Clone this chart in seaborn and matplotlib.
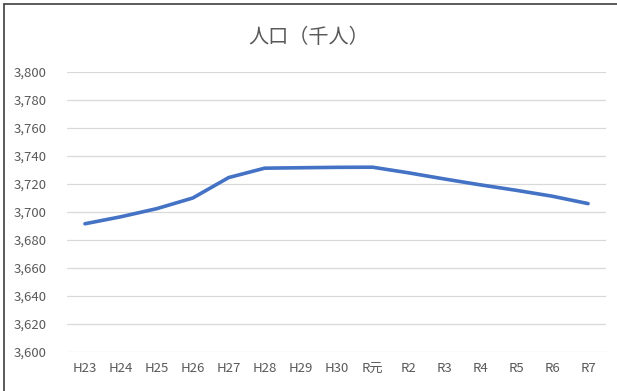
import pandas as pd
import seaborn as sns
import matplotlib.pyplot as plt
from matplotlib.lines import Line2D

years = ["H23", "H24", "H25", "H26", "H27", "H28", "H29", "H30",
         "R元", "R2", "R3", "R4", "R5", "R6", "R7"]
population = [3691.6, 3696.6, 3702.4, 3710.0, 3724.6, 3731.3, 3731.6, 3731.9,
              3732.0, 3728.0, 3723.6, 3719.4, 3715.5, 3711.3, 3706.0]
yticks = list(range(3600, 3801, 20))

df = pd.DataFrame({"year": years, "pop": population})

sns.set_theme(style="white")
plt.rcParams["font.family"] = ["Noto Sans CJK JP", "DejaVu Sans"]

fig = plt.figure(figsize=(6.17, 3.91), dpi=100)
ax = fig.add_axes([0.1086, 0.0997, 0.8736, 0.7162])

sns.lineplot(data=df, x="year", y="pop", sort=False, color="#4472C4",
             linewidth=2.6, ax=ax)

ax.set_xlim(-0.5, len(years) - 0.5)
ax.set_ylim(3600, 3800)
ax.set_yticks(yticks)
ax.set_yticklabels([f"{v:,}" for v in yticks])
ax.yaxis.grid(True, color="#D9D9D9", linewidth=0.9)
ax.set_axisbelow(True)
for s in ax.spines.values():
    s.set_visible(False)
ax.tick_params(axis="both", length=0, labelsize=9.5, colors="#595959")
ax.tick_params(axis="y", pad=15)
ax.tick_params(axis="x", pad=7)
ax.set_xlabel("")
ax.set_ylabel("")

fig.text(0.5, 0.903, "人口（千人）", ha="center", va="center",
         fontsize=14.5, color="#595959")

# chart frame (only left/top edges are visible in the crop)
fig.add_artist(Line2D([4 / 617, 4 / 617], [0, 1 - 4 / 391], color="#404040",
                      linewidth=1.2, transform=fig.transFigure))
fig.add_artist(Line2D([4 / 617, 1], [1 - 4 / 391, 1 - 4 / 391], color="#404040",
                      linewidth=1.2, transform=fig.transFigure))

fig.savefig("out.png", dpi=100)
